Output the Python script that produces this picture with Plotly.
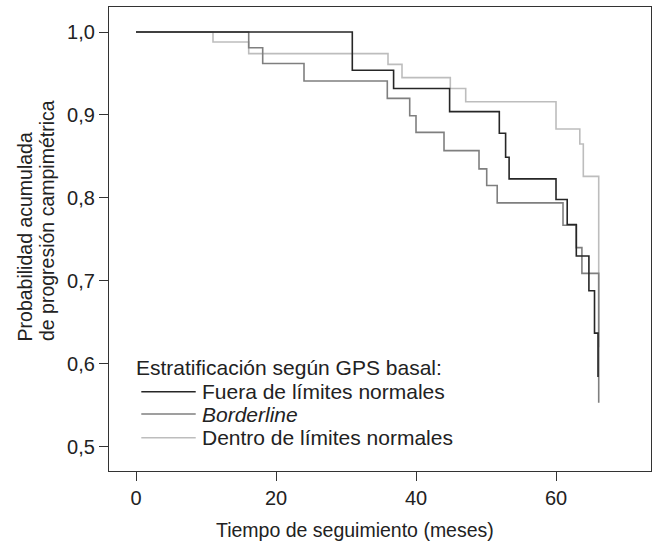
import plotly.graph_objects as go

# Kaplan-Meier step data (time in months, cumulative probability)
fuera_t = [0, 30.9, 36.8, 44.8, 51.9, 52.8, 53.3, 60.0, 61.6, 62.9, 64.7, 65.5, 66.0]
fuera_s = [1.0, 0.954, 0.932, 0.904, 0.878, 0.849, 0.823, 0.798, 0.768, 0.730, 0.688, 0.637, 0.584]

border_t = [0, 16.1, 18.1, 24.0, 35.9, 39.1, 40.0, 44.0, 49.0, 50.1, 51.6, 61.0, 62.9, 63.7, 66.1]
border_s = [1.0, 0.981, 0.962, 0.941, 0.920, 0.899, 0.879, 0.857, 0.835, 0.815, 0.794, 0.767, 0.740, 0.709, 0.553]

dentro_t = [0, 11.0, 16.1, 36.0, 38.0, 44.9, 47.1, 60.0, 63.4, 63.9, 66.1]
dentro_s = [1.0, 0.988, 0.974, 0.961, 0.945, 0.932, 0.916, 0.883, 0.865, 0.826, 0.62]

names = ["Fuera de límites normales", "<i>Borderline</i>", "Dentro de límites normales"]
colors = ["#262626", "#7f7f7f", "#bdbdbd"]
legend_title = "Estratificación según GPS basal:"

x_ticks = [0, 20, 40, 60]
y_ticks = [0.5, 0.6, 0.7, 0.8, 0.9, 1.0]
y_ticktext = ["0,5", "0,6", "0,7", "0,8", "0,9", "1,0"]

txt = "#222222"

fig = go.Figure()
# draw order: light first, black last (on top)
for t, s, nm, c in [
    (dentro_t, dentro_s, names[2], colors[2]),
    (border_t, border_s, names[1], colors[1]),
    (fuera_t, fuera_s, names[0], colors[0]),
]:
    fig.add_trace(go.Scatter(x=t, y=s, mode="lines", name=nm, showlegend=False,
                             line=dict(shape="hv", color=c, width=1.6)))

# legend drawn as key lines + text (paper coordinates)
leg_y = [0.1709, 0.1228, 0.0718]
shapes = []
annotations = [
    dict(text=legend_title, xref="paper", yref="paper", x=0.047, y=0.2241,
         xanchor="left", yanchor="middle", showarrow=False, font=dict(size=21, color=txt)),
]
for nm, c, yy in zip(names, colors, leg_y):
    shapes.append(dict(type="line", xref="paper", yref="paper", x0=0.0596, x1=0.16,
                       y0=yy, y1=yy, line=dict(color=c, width=1.6)))
    annotations.append(dict(text=nm, xref="paper", yref="paper", x=0.1673, y=yy,
                            xanchor="left", yanchor="middle", showarrow=False,
                            font=dict(size=21, color=txt)))

annotations += [
    dict(text="Probabilidad acumulada", xref="paper", yref="paper", x=-0.155, y=0.276,
         xanchor="center", yanchor="bottom", textangle=-90, showarrow=False,
         font=dict(size=19.5, color=txt)),
    dict(text="de progresión campimétrica", xref="paper", yref="paper", x=-0.1133, y=0.276,
         xanchor="center", yanchor="bottom", textangle=-90, showarrow=False,
         font=dict(size=19.5, color=txt)),
    dict(text="Tiempo de seguimiento (meses)", xref="paper", yref="paper",
         x=0.453, y=-0.1272, xanchor="center", yanchor="middle", showarrow=False,
         font=dict(size=19.5, color=txt)),
]

fig.update_layout(
    width=655, height=542,
    margin=dict(l=109, r=4, t=7, b=71),
    paper_bgcolor="white", plot_bgcolor="white",
    font=dict(family="Liberation Sans, Arial, sans-serif", color=txt),
    showlegend=False,
    xaxis=dict(range=[-3.857, 73.57], tickvals=x_ticks, ticks="outside", ticklen=9,
               tickwidth=1.3, tickcolor="#333", showline=True, linecolor="#333",
               linewidth=1.3, mirror=True, showgrid=False, zeroline=False,
               tickfont=dict(size=20, color=txt)),
    yaxis=dict(range=[0.4707, 1.0302], tickvals=y_ticks, ticktext=y_ticktext,
               ticks="outside", ticklen=9, tickwidth=1.3, tickcolor="#333",
               showline=True, linecolor="#333", linewidth=1.3, mirror=True,
               showgrid=False, zeroline=False, tickfont=dict(size=20, color=txt)),
    shapes=shapes,
    annotations=annotations,
)

fig.write_html("out.html", config={"displayModeBar": False},
               post_script="document.body.style.margin='0';")
